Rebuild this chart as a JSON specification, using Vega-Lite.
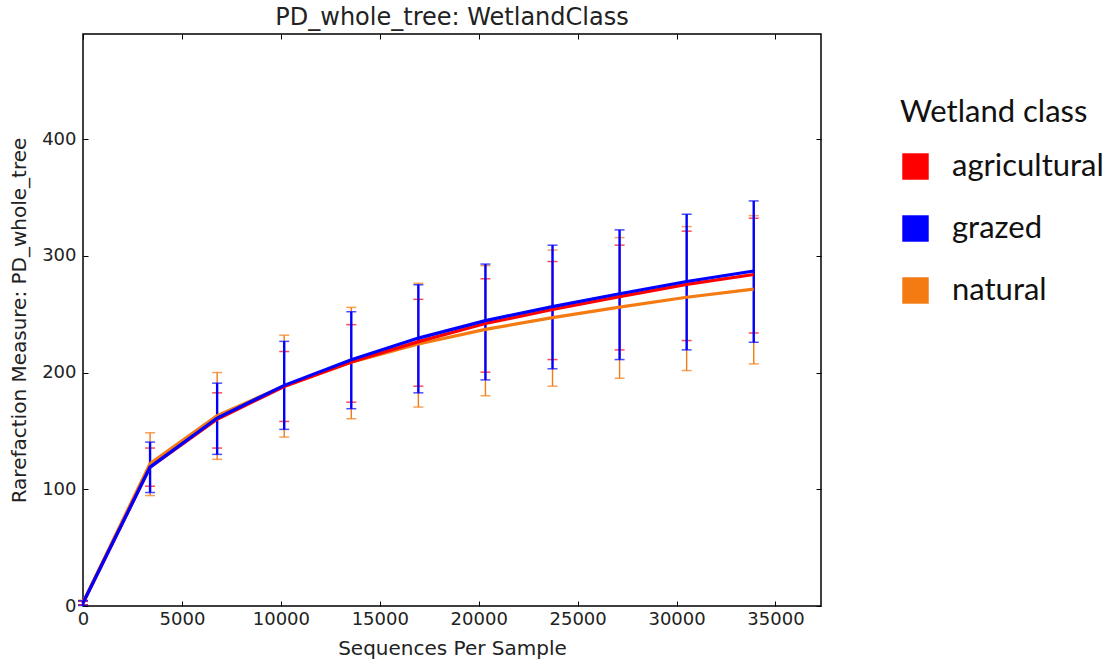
{
  "$schema": "https://vega.github.io/schema/vega-lite/v6.json",
  "width": 738,
  "height": 572,
  "autosize": {"type": "none"},
  "padding": {"left": 83, "top": 34, "right": 292, "bottom": 55},
  "background": "white",
  "title": {"text": "PD_whole_tree: WetlandClass", "font": "DejaVu Sans", "fontSize": 24, "fontWeight": "normal", "color": "#222", "offset": 4},
  "config": {
    "view": {"stroke": "black", "strokeWidth": 1.5},
    "axis": {"grid": false, "domainColor": "black", "tickColor": "black", "labelFont": "DejaVu Sans", "labelFontSize": 18, "labelColor": "#222", "titleFont": "DejaVu Sans", "titleFontSize": 20, "titleFontWeight": "normal", "titleColor": "#222"},
    "rule": {"strokeWidth": 1.4},
    "tick": {"orient": "horizontal", "size": 10, "thickness": 1.5}
  },
  "data": {"values": [
    {"seqs": 0, "cls": "natural", "mean": 3, "lo": 1, "hi": 5},
    {"seqs": 3390, "cls": "natural", "mean": 122, "lo": 94.6, "hi": 148.4},
    {"seqs": 6780, "cls": "natural", "mean": 163, "lo": 125.6, "hi": 200},
    {"seqs": 10170, "cls": "natural", "mean": 188.5, "lo": 144.7, "hi": 232},
    {"seqs": 13560, "cls": "natural", "mean": 208.8, "lo": 160.4, "hi": 255.8},
    {"seqs": 16950, "cls": "natural", "mean": 224.5, "lo": 170.4, "hi": 276.4},
    {"seqs": 20340, "cls": "natural", "mean": 237, "lo": 180.1, "hi": 291.5},
    {"seqs": 23730, "cls": "natural", "mean": 247, "lo": 188.3, "hi": 304.9},
    {"seqs": 27120, "cls": "natural", "mean": 256, "lo": 195.1, "hi": 315.6},
    {"seqs": 30510, "cls": "natural", "mean": 264.5, "lo": 201.7, "hi": 325},
    {"seqs": 33900, "cls": "natural", "mean": 271.5, "lo": 207.4, "hi": 334.4},
    {"seqs": 0, "cls": "agricultural", "mean": 2.5, "lo": 1, "hi": 4},
    {"seqs": 3390, "cls": "agricultural", "mean": 119, "lo": 102.6, "hi": 135.3},
    {"seqs": 6780, "cls": "agricultural", "mean": 160, "lo": 135.3, "hi": 182.6},
    {"seqs": 10170, "cls": "agricultural", "mean": 188, "lo": 158.1, "hi": 218},
    {"seqs": 13560, "cls": "agricultural", "mean": 209, "lo": 174.6, "hi": 241},
    {"seqs": 16950, "cls": "agricultural", "mean": 226.5, "lo": 188.3, "hi": 262.7},
    {"seqs": 20340, "cls": "agricultural", "mean": 242, "lo": 200.3, "hi": 280.3},
    {"seqs": 23730, "cls": "agricultural", "mean": 254, "lo": 211.1, "hi": 295.1},
    {"seqs": 27120, "cls": "agricultural", "mean": 265, "lo": 219.4, "hi": 309.1},
    {"seqs": 30510, "cls": "agricultural", "mean": 275.5, "lo": 227.4, "hi": 321.1},
    {"seqs": 33900, "cls": "agricultural", "mean": 284, "lo": 233.9, "hi": 332.2},
    {"seqs": 0, "cls": "grazed", "mean": 2.5, "lo": 0.5, "hi": 4.5},
    {"seqs": 3390, "cls": "grazed", "mean": 119, "lo": 97.2, "hi": 140.4},
    {"seqs": 6780, "cls": "grazed", "mean": 161, "lo": 129.9, "hi": 190.9},
    {"seqs": 10170, "cls": "grazed", "mean": 189, "lo": 151.3, "hi": 226.7},
    {"seqs": 13560, "cls": "grazed", "mean": 211, "lo": 169, "hi": 252.1},
    {"seqs": 16950, "cls": "grazed", "mean": 229.5, "lo": 182.6, "hi": 275.2},
    {"seqs": 20340, "cls": "grazed", "mean": 244.5, "lo": 193.7, "hi": 292.9},
    {"seqs": 23730, "cls": "grazed", "mean": 256.5, "lo": 203.2, "hi": 309.1},
    {"seqs": 27120, "cls": "grazed", "mean": 267.5, "lo": 211.1, "hi": 322.2},
    {"seqs": 30510, "cls": "grazed", "mean": 278, "lo": 219.4, "hi": 335.6},
    {"seqs": 33900, "cls": "grazed", "mean": 287, "lo": 225.9, "hi": 347}
  ]},
  "resolve": {"axis": {"x": "independent", "y": "independent"}},
  "layer": [
    {
      "mark": {"type": "point", "opacity": 0},
      "encoding": {
        "x": {"field": "seqs", "type": "quantitative", "scale": {"domain": [0, 37300], "nice": false, "zero": false},
              "axis": {"title": "Sequences Per Sample", "orient": "bottom", "format": "d", "values": [0,5000,10000,15000,20000,25000,30000,35000], "tickSize": -5, "labelPadding": 9, "titlePadding": 10, "labelFlush": false, "domain": false}},
        "y": {"field": "mean", "type": "quantitative", "scale": {"domain": [0, 490], "nice": false},
              "axis": {"title": "Rarefaction Measure: PD_whole_tree", "orient": "left", "values": [0,100,200,300,400], "tickSize": -5, "labelPadding": 12, "titlePadding": 12, "labelFlush": false, "domain": false}},
        "color": {"field": "cls", "type": "nominal",
                  "scale": {"domain": ["agricultural", "grazed", "natural"], "range": ["#ff0000", "#0000ff", "#f47a12"]},
                  "legend": {"title": "Wetland class", "orient": "none", "legendX": 817, "legendY": 64,
                             "titleFont": "Lato", "titleFontSize": 31, "titleFontWeight": "normal", "titleColor": "#111", "titlePadding": 22, "titleLimit": 400,
                             "labelFont": "Lato", "labelFontSize": 31, "labelColor": "#111", "labelOffset": 21, "labelLimit": 400,
                             "symbolType": "square", "symbolSize": 700, "symbolStrokeWidth": 0, "rowPadding": 30,
                             "encode": {"symbols": {"update": {"fill": {"scale": "color", "field": "value"}, "fillOpacity": {"value": 1}, "opacity": {"value": 1}, "strokeWidth": {"value": 0}}}}}}
      }
    },
    {
      "mark": {"type": "point", "opacity": 0},
      "encoding": {
        "x": {"field": "seqs", "type": "quantitative",
              "axis": {"title": null, "orient": "top", "values": [0,5000,10000,15000,20000,25000,30000,35000], "tickSize": -5, "labels": false, "domain": false}},
        "y": {"field": "mean", "type": "quantitative",
              "axis": {"title": null, "orient": "right", "values": [0,100,200,300,400], "tickSize": -5, "labels": false, "domain": false}}
      }
    },
    {
      "transform": [{"filter": "datum.cls === 'natural'"}],
      "layer": [
        {"mark": "rule", "encoding": {"x": {"field": "seqs", "type": "quantitative", "axis": null}, "y": {"field": "lo", "type": "quantitative", "axis": null}, "y2": {"field": "hi"}, "color": {"field": "cls", "type": "nominal", "legend": null}}},
        {"mark": "tick", "encoding": {"x": {"field": "seqs", "type": "quantitative", "axis": null}, "y": {"field": "lo", "type": "quantitative", "axis": null}, "color": {"field": "cls", "type": "nominal", "legend": null}}},
        {"mark": "tick", "encoding": {"x": {"field": "seqs", "type": "quantitative", "axis": null}, "y": {"field": "hi", "type": "quantitative", "axis": null}, "color": {"field": "cls", "type": "nominal", "legend": null}}}
      ]
    },
    {
      "transform": [{"filter": "datum.cls === 'agricultural'"}],
      "layer": [
        {"mark": "rule", "encoding": {"x": {"field": "seqs", "type": "quantitative", "axis": null}, "y": {"field": "lo", "type": "quantitative", "axis": null}, "y2": {"field": "hi"}, "color": {"field": "cls", "type": "nominal", "legend": null}}},
        {"mark": "tick", "encoding": {"x": {"field": "seqs", "type": "quantitative", "axis": null}, "y": {"field": "lo", "type": "quantitative", "axis": null}, "color": {"field": "cls", "type": "nominal", "legend": null}}},
        {"mark": "tick", "encoding": {"x": {"field": "seqs", "type": "quantitative", "axis": null}, "y": {"field": "hi", "type": "quantitative", "axis": null}, "color": {"field": "cls", "type": "nominal", "legend": null}}}
      ]
    },
    {
      "transform": [{"filter": "datum.cls === 'grazed'"}],
      "layer": [
        {"mark": {"type": "rule", "strokeWidth": 2.4}, "encoding": {"x": {"field": "seqs", "type": "quantitative", "axis": null}, "y": {"field": "lo", "type": "quantitative", "axis": null}, "y2": {"field": "hi"}, "color": {"field": "cls", "type": "nominal", "legend": null}}},
        {"mark": "tick", "encoding": {"x": {"field": "seqs", "type": "quantitative", "axis": null}, "y": {"field": "lo", "type": "quantitative", "axis": null}, "color": {"field": "cls", "type": "nominal", "legend": null}}},
        {"mark": "tick", "encoding": {"x": {"field": "seqs", "type": "quantitative", "axis": null}, "y": {"field": "hi", "type": "quantitative", "axis": null}, "color": {"field": "cls", "type": "nominal", "legend": null}}}
      ]
    },
    {
      "mark": {"type": "line", "strokeWidth": 3.2},
      "encoding": {
        "x": {"field": "seqs", "type": "quantitative", "axis": null},
        "y": {"field": "mean", "type": "quantitative", "axis": null},
        "color": {"field": "cls", "type": "nominal", "legend": null}
      }
    }
  ]
}
